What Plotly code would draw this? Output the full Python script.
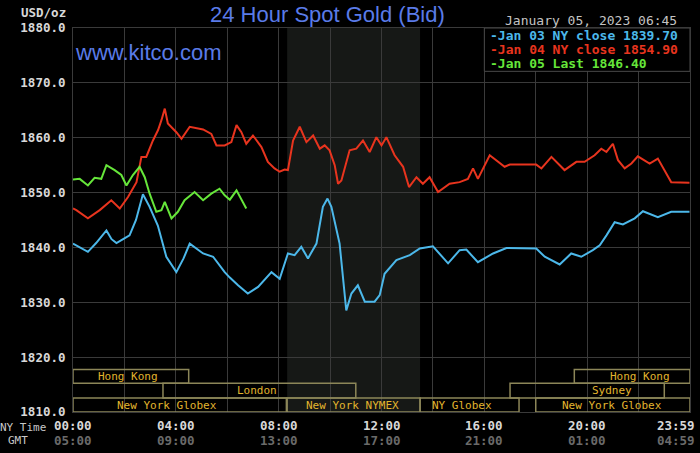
import plotly.graph_objects as go

# spot gold bid, hours after 00:00 New York time
jan03_hours = [0.0, 0.3, 0.58, 0.9, 1.3, 1.5, 1.69, 1.95, 2.2, 2.45, 2.72, 2.98, 3.3, 3.63,
               4.02, 4.3, 4.54, 5.06, 5.45, 5.9, 6.1, 6.42, 6.8, 7.2, 7.72, 8.04, 8.36,
               8.62, 8.88, 9.14, 9.47, 9.72, 9.9, 10.05, 10.37, 10.63, 10.83, 11.08,
               11.35, 11.73, 11.93, 12.12, 12.58, 13.1, 13.49, 14.0, 14.59, 15.04, 15.3,
               15.75, 16.34, 16.86, 18.02, 18.35, 18.93, 19.38, 19.77, 20.22, 20.49,
               20.75, 21.07, 21.39, 21.85, 22.17, 22.75, 23.27, 23.98]
jan03_bid = [1840.7, 1840.0, 1839.2, 1840.8, 1843.1, 1841.5, 1840.8, 1841.5, 1842.2, 1845.0,
             1849.7, 1847.4, 1844.0, 1838.3, 1835.5, 1838.0, 1840.7, 1838.9, 1838.3, 1835.5,
             1834.5, 1833.1, 1831.6, 1832.8, 1835.5, 1834.3, 1838.9, 1838.6, 1840.1, 1838.0,
             1840.7, 1847.4, 1848.9, 1847.4, 1840.7, 1828.5, 1831.6, 1833.1, 1830.1, 1830.1,
             1831.3, 1835.2, 1837.7, 1838.6, 1839.8, 1840.2, 1837.1, 1839.5, 1839.6, 1837.3,
             1838.9, 1839.9, 1839.8, 1838.3, 1836.9, 1838.9, 1838.3, 1839.5, 1840.4, 1842.2,
             1844.6, 1844.2, 1845.3, 1846.6, 1845.5, 1846.5, 1846.5]

jan04_hours = [0.0, 0.13, 0.58, 1.04, 1.49, 1.82, 2.14, 2.47, 2.66, 2.85, 3.11, 3.31, 3.44,
               3.57, 3.69, 4.02, 4.22, 4.54, 5.06, 5.38, 5.58, 5.9, 6.16, 6.36, 6.55, 6.74,
               7.0, 7.33, 7.58, 7.84, 8.04, 8.23, 8.36, 8.56, 8.82, 9.08, 9.34, 9.6, 9.79,
               9.98, 10.18, 10.31, 10.44, 10.76, 11.02, 11.28, 11.54, 11.8, 12.0, 12.19,
               12.51, 12.84, 13.07, 13.36, 13.61, 13.87, 14.2, 14.65, 15.04, 15.36, 15.56,
               15.75, 16.21, 16.53, 16.79, 16.99, 18.02, 18.22, 18.61, 19.12, 19.58, 19.9,
               20.29, 20.55, 20.75, 21.0, 21.2, 21.46, 21.72, 21.97, 22.43, 22.75, 23.01,
               23.27, 23.98]
jan04_bid = [1847.1, 1846.8, 1845.3, 1846.8, 1848.6, 1847.1, 1849.2, 1851.9, 1856.5, 1856.5,
             1859.5, 1861.4, 1863.2, 1865.3, 1862.6, 1861.0, 1859.8, 1862.0, 1861.5, 1860.7,
             1858.6, 1858.6, 1859.2, 1862.3, 1861.0, 1858.9, 1860.4, 1858.3, 1855.6, 1854.4,
             1853.8, 1854.2, 1854.1, 1859.5, 1862.0, 1859.2, 1860.4, 1858.0, 1858.6, 1857.7,
             1855.0, 1851.6, 1852.2, 1857.7, 1858.0, 1859.5, 1857.4, 1860.1, 1858.6, 1860.1,
             1856.8, 1854.7, 1851.0, 1852.8, 1851.6, 1852.8, 1850.1, 1851.6, 1851.9, 1852.5,
             1854.4, 1852.5, 1856.8, 1855.6, 1854.7, 1855.1, 1855.1, 1854.4, 1856.5, 1854.1,
             1855.6, 1855.6, 1856.8, 1858.0, 1857.4, 1858.9, 1855.9, 1854.4, 1855.3, 1856.6,
             1855.3, 1856.2, 1854.1, 1851.9, 1851.8]

jan05_hours = [0.0, 0.26, 0.58, 0.84, 1.1, 1.3, 1.62, 1.88, 2.08, 2.33, 2.59, 2.79, 2.98,
               3.24, 3.44, 3.57, 3.83, 4.08, 4.34, 4.73, 5.06, 5.38, 5.7, 5.9, 6.1, 6.36, 6.74]
jan05_bid = [1852.4, 1852.5, 1851.3, 1852.7, 1852.5, 1855.0, 1854.1, 1853.2, 1851.3, 1853.2,
             1854.7, 1852.8, 1849.8, 1846.5, 1846.8, 1848.3, 1845.3, 1846.5, 1848.6, 1850.1,
             1848.6, 1849.8, 1850.7, 1849.5, 1848.7, 1850.4, 1847.1]

series_names = ["Jan 03 NY close", "Jan 04 NY close", "Jan 05 Last"]
series_values = [1839.70, 1854.90, 1846.40]

tick_hours = [0, 4, 8, 12, 16, 20, 23.983]
ny_labels = ["00:00", "04:00", "08:00", "12:00", "16:00", "20:00", "23:59"]
gmt_labels = ["05:00", "09:00", "13:00", "17:00", "21:00", "01:00", "04:59"]

session_names = ["Hong Kong", "Hong Kong", "London", "Sydney",
                 "New York Globex", "New York NYMEX", "NY Globex", "New York Globex"]
session_start = [0, 19.5, 3.5, 17, 0, 8.33, 13.5, 18]
session_end = [4.5, 24, 11, 23, 8.3, 13.5, 17.35, 24]
session_row = [0, 0, 1, 1, 2, 2, 2, 2]
label_at = [2.13, 22.05, 7.15, 20.95, 3.65, 10.88, 15.15, 20.95]

nymex_open, nymex_close = 8.33, 13.5

colors = ["#4cb8ea", "#e8341e", "#66e63a"]
mono = "DejaVu Sans Mono"
grid = "#3a3a3a"
gold = "#e2b52e"
box = "#8c8658"
# row bands (y) for the session strips
rows = [(1815.25, 1817.75), (1812.55, 1815.25), (1810.0, 1812.55)]

fig = go.Figure()
for hrs, vals, c in zip([jan03_hours, jan04_hours, jan05_hours],
                        [jan03_bid, jan04_bid, jan05_bid], colors):
    fig.add_trace(go.Scatter(x=hrs, y=vals, mode="lines",
                             line=dict(color=c, width=2), hoverinfo="skip"))

# NYMEX shading
fig.add_shape(type="rect", xref="x", yref="y", x0=nymex_open, x1=nymex_close,
              y0=1810, y1=1880, fillcolor="#161816", line_width=0, layer="below")

# trading sessions
for name, s, e, r, lx in zip(session_names, session_start, session_end, session_row, label_at):
    y0, y1 = rows[r]
    fig.add_shape(type="rect", xref="x", yref="y", x0=s, x1=e, y0=y0, y1=y1,
                  line=dict(color=box, width=1.5), fillcolor="rgba(0,0,0,0)", layer="above")
    fig.add_annotation(x=lx, y=(y0 + y1) / 2, xref="x", yref="y", text=name,
                       showarrow=False, font=dict(family=mono, size=11, color=gold))

# legend box
fig.add_shape(type="rect", xref="x", yref="y", x0=16, x1=24, y0=1872.1, y1=1880,
              fillcolor="#000000", line=dict(color="#4a4a4a", width=1), layer="above")
for i, (n, v, c) in enumerate(zip(series_names, series_values, colors)):
    fig.add_annotation(x=16, y=1, xref="x", yref="paper", xanchor="left", yanchor="middle",
                       xshift=4, yshift=-7.5 - 13.8 * i, text=f"-{n} {v:.2f}", showarrow=False,
                       font=dict(family=mono, size=13, color=c, weight="bold"))

# x labels, NY time and GMT
for h, a, b in zip(tick_hours, ny_labels, gmt_labels):
    anchor = "right" if h > 23 else "center"
    xs = 7 if h > 23 else 0
    fig.add_annotation(x=h, y=0, xref="x", yref="paper", yanchor="middle", xanchor=anchor,
                       xshift=xs, yshift=-13, text=a, showarrow=False,
                       font=dict(family=mono, size=12.5, color="#d8d8d8", weight="bold"))
    fig.add_annotation(x=h, y=0, xref="x", yref="paper", yanchor="middle", xanchor=anchor,
                       xshift=xs, yshift=-28, text=b, showarrow=False,
                       font=dict(family=mono, size=12.5, color="#6a6a6a", weight="bold"))
fig.add_annotation(x=0, y=0, xref="paper", yref="paper", xanchor="right", yanchor="middle",
                   xshift=-25, yshift=-15, text="NY Time", showarrow=False,
                   font=dict(family=mono, size=11, color="#c8c8c8"))
fig.add_annotation(x=0, y=0, xref="paper", yref="paper", xanchor="right", yanchor="middle",
                   xshift=-43, yshift=-28, text="GMT", showarrow=False,
                   font=dict(family=mono, size=11, color="#c8c8c8"))

# header texts
fig.add_annotation(x=0, y=1, xref="paper", yref="paper", xanchor="right", yanchor="middle",
                   xshift=-5, yshift=16, text="USD/oz", showarrow=False,
                   font=dict(family=mono, size=12.5, color="#d8d8d8", weight="bold"))
fig.add_annotation(x=0.413, y=1, xref="paper", yref="paper", xanchor="center", yanchor="middle",
                   yshift=14, text="24 Hour Spot Gold (Bid)", showarrow=False,
                   font=dict(family="Liberation Sans", size=22, color="#5a7be8"))
fig.add_annotation(x=0, y=1, xref="paper", yref="paper", xanchor="left", yanchor="middle",
                   xshift=0, yshift=-24, text="www.kitco.com", showarrow=False,
                   font=dict(family="Liberation Sans", size=22, color="#5a7be8"))
fig.add_annotation(x=1, y=1, xref="paper", yref="paper", xanchor="right", yanchor="middle",
                   xshift=-11, yshift=8, text="January 05, 2023 06:45", showarrow=False,
                   font=dict(family=mono, size=13, color="#c4c4c4"))

fig.update_xaxes(range=[0, 24], dtick=2, tick0=0, showgrid=True, gridcolor=grid,
                 showticklabels=False, zeroline=False, showline=True, linecolor=grid,
                 mirror=True, fixedrange=True)
fig.update_yaxes(range=[1810, 1880], dtick=10, tickformat=".1f", showgrid=True,
                 gridcolor=grid, zeroline=False, showline=True, linecolor=grid, mirror=True,
                 ticks="", ticklabelstandoff=4,
                 tickfont=dict(family=mono, size=12.5, color="#d8d8d8", weight="bold"))
fig.update_layout(width=700, height=453, margin=dict(l=73, r=10, t=28, b=41),
                  paper_bgcolor="#000000", plot_bgcolor="#000000", showlegend=False)

# the page's default body margin would push the chart 8px off
fig.write_html("out.html", config={"displayModeBar": False},
               post_script="document.body.style.margin='0px';")
